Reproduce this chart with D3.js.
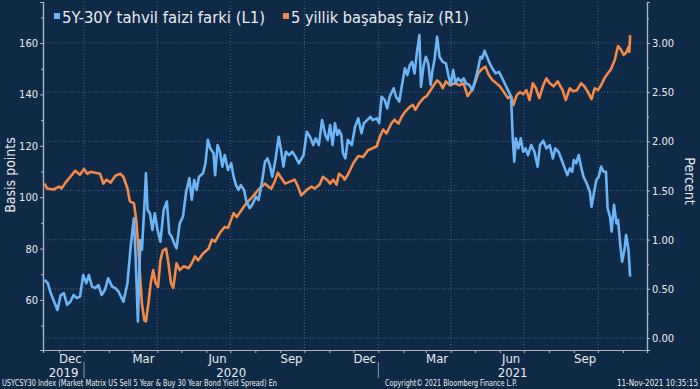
<!DOCTYPE html>
<html>
<head>
<meta charset="utf-8">
<script src="https://cdn.jsdelivr.net/npm/d3@7"></script>
<style>
  body { margin: 0; background: #0f2a47; }
  svg { display: block; }
  text { font-family: "DejaVu Sans Condensed", "DejaVu Sans", sans-serif; fill: #e8ecf0; }
</style>
</head>
<body>
<svg id="chart"></svg>
<script>
// 5Y-30Y spread (basis points, left axis)
const spreadData = [
  ["2019-11-13", 67.8], ["2019-11-17", 66.5], ["2019-11-20", 63.2], ["2019-11-24", 60.0], ["2019-11-29", 56.1],
  ["2019-12-03", 61.9], ["2019-12-07", 62.6], ["2019-12-11", 58.1], ["2019-12-15", 59.3], ["2019-12-19", 61.9],
  ["2019-12-23", 60.7], ["2019-12-27", 61.3], ["2019-12-31", 69.7], ["2020-01-04", 66.5], ["2020-01-07", 69.7],
  ["2020-01-11", 65.2], ["2020-01-15", 64.6], ["2020-01-19", 65.8], ["2020-01-23", 61.9], ["2020-01-27", 63.9],
  ["2020-01-31", 68.4], ["2020-02-05", 65.2], ["2020-02-09", 64.6], ["2020-02-13", 63.2], ["2020-02-19", 59.3],
  ["2020-02-24", 66.5], ["2020-02-28", 80.7], ["2020-03-03", 91.8], ["2020-03-05", 78.2], ["2020-03-08", 51.6],
  ["2020-03-11", 83.3], ["2020-03-13", 79.5], ["2020-03-16", 96.3], ["2020-03-18", 109.3], ["2020-03-20", 95.0],
  ["2020-03-23", 93.7], ["2020-03-26", 87.2], ["2020-03-29", 93.7], ["2020-04-01", 87.9], ["2020-04-05", 82.7],
  ["2020-04-09", 95.0], ["2020-04-13", 98.3], ["2020-04-16", 86.0], ["2020-04-19", 84.6], ["2020-04-22", 82.1],
  ["2020-04-25", 80.1], ["2020-04-29", 89.8], ["2020-05-03", 92.4], ["2020-05-07", 102.1], ["2020-05-11", 107.4],
  ["2020-05-14", 99.0], ["2020-05-17", 106.7], ["2020-05-20", 102.8], ["2020-05-23", 108.0], ["2020-05-28", 109.3],
  ["2020-05-31", 113.2], ["2020-06-03", 122.3], ["2020-06-06", 119.0], ["2020-06-10", 117.1], ["2020-06-12", 108.6],
  ["2020-06-15", 120.3], ["2020-06-18", 117.7], ["2020-06-21", 111.9], ["2020-06-24", 116.4], ["2020-06-28", 110.6],
  ["2020-07-02", 113.2], ["2020-07-05", 108.0], ["2020-07-08", 104.7], ["2020-07-11", 102.8], ["2020-07-14", 104.7],
  ["2020-07-18", 102.8], ["2020-07-21", 98.2], ["2020-07-25", 95.7], ["2020-07-28", 97.0], ["2020-08-02", 100.2],
  ["2020-08-05", 98.9], ["2020-08-09", 105.4], ["2020-08-13", 113.8], ["2020-08-16", 115.1], ["2020-08-19", 112.5],
  ["2020-08-22", 108.0], ["2020-08-26", 114.5], ["2020-08-30", 123.5], ["2020-09-02", 118.4], ["2020-09-05", 111.9],
  ["2020-09-08", 117.7], ["2020-09-12", 116.4], ["2020-09-16", 117.7], ["2020-09-20", 115.8], ["2020-09-24", 113.2],
  ["2020-09-30", 116.4], ["2020-10-04", 125.5], ["2020-10-08", 123.5], ["2020-10-12", 120.3], ["2020-10-15", 122.9],
  ["2020-10-19", 120.3], ["2020-10-23", 130.0], ["2020-10-27", 124.2], ["2020-10-30", 122.3], ["2020-11-02", 128.1],
  ["2020-11-05", 120.3], ["2020-11-08", 128.8], ["2020-11-11", 124.2], ["2020-11-13", 126.1], ["2020-11-16", 124.2],
  ["2020-11-18", 117.1], ["2020-11-21", 115.1], ["2020-11-24", 122.3], ["2020-11-29", 120.3], ["2020-12-03", 127.4],
  ["2020-12-07", 130.7], ["2020-12-11", 124.9], ["2020-12-14", 128.8], ["2020-12-18", 130.0], ["2020-12-22", 131.3],
  ["2020-12-25", 130.0], ["2020-12-30", 130.7], ["2021-01-02", 128.8], ["2021-01-05", 139.1], ["2021-01-09", 137.8],
  ["2021-01-12", 134.6], ["2021-01-15", 139.1], ["2021-01-20", 142.4], ["2021-01-23", 139.1], ["2021-01-27", 137.2],
  ["2021-01-30", 143.0], ["2021-02-03", 150.2], ["2021-02-06", 147.5], ["2021-02-09", 151.4], ["2021-02-12", 152.7],
  ["2021-02-15", 148.2], ["2021-02-18", 156.6], ["2021-02-21", 163.1], ["2021-02-23", 143.0], ["2021-02-26", 150.8],
  ["2021-03-01", 154.7], ["2021-03-04", 152.1], ["2021-03-07", 143.7], ["2021-03-09", 148.8], ["2021-03-12", 154.0],
  ["2021-03-15", 162.5], ["2021-03-18", 154.7], ["2021-03-22", 152.7], ["2021-03-26", 152.1], ["2021-03-29", 147.5],
  ["2021-04-01", 143.7], ["2021-04-04", 149.5], ["2021-04-07", 144.3], ["2021-04-10", 146.3], ["2021-04-14", 145.0],
  ["2021-04-17", 146.3], ["2021-04-20", 144.3], ["2021-04-24", 143.7], ["2021-04-28", 141.7], ["2021-05-02", 146.3],
  ["2021-05-05", 150.2], ["2021-05-08", 154.7], ["2021-05-10", 154.0], ["2021-05-13", 157.0], ["2021-05-16", 154.7],
  ["2021-05-19", 152.4], ["2021-05-23", 150.0], ["2021-05-27", 148.2], ["2021-05-31", 148.8], ["2021-06-04", 146.3],
  ["2021-06-08", 143.7], ["2021-06-12", 141.1], ["2021-06-15", 139.1], ["2021-06-17", 123.5], ["2021-06-19", 113.8],
  ["2021-06-21", 122.9], ["2021-06-24", 119.0], ["2021-06-27", 122.9], ["2021-06-30", 117.7], ["2021-07-03", 119.0],
  ["2021-07-06", 116.4], ["2021-07-10", 120.3], ["2021-07-14", 117.7], ["2021-07-18", 111.9], ["2021-07-21", 120.3],
  ["2021-07-25", 122.0], ["2021-07-29", 119.0], ["2021-08-02", 120.3], ["2021-08-06", 115.1], ["2021-08-09", 119.0],
  ["2021-08-13", 117.7], ["2021-08-17", 114.5], ["2021-08-20", 111.9], ["2021-08-24", 108.6], ["2021-08-27", 111.2],
  ["2021-08-30", 109.9], ["2021-09-01", 114.5], ["2021-09-04", 113.2], ["2021-09-07", 116.4], ["2021-09-10", 111.9],
  ["2021-09-13", 108.0], ["2021-09-17", 105.4], ["2021-09-21", 102.1], ["2021-09-23", 96.3], ["2021-09-26", 101.5],
  ["2021-09-29", 106.7], ["2021-10-02", 108.0], ["2021-10-05", 111.9], ["2021-10-08", 109.9], ["2021-10-11", 109.9],
  ["2021-10-13", 95.7], ["2021-10-16", 92.4], ["2021-10-18", 86.6], ["2021-10-21", 97.0], ["2021-10-24", 89.8],
  ["2021-10-26", 91.1], ["2021-10-29", 80.7], ["2021-10-31", 74.9], ["2021-11-03", 79.5], ["2021-11-05", 85.3],
  ["2021-11-08", 79.5], ["2021-11-10", 69.1]
];

// 5 year breakeven (percent, right axis)
const breakevenData = [
  ["2019-11-13", 1.57], ["2019-11-16", 1.52], ["2019-11-24", 1.51], ["2019-12-01", 1.54], ["2019-12-04", 1.52],
  ["2019-12-09", 1.58], ["2019-12-15", 1.64], ["2019-12-21", 1.70], ["2019-12-27", 1.66], ["2020-01-01", 1.72],
  ["2020-01-05", 1.67], ["2020-01-09", 1.69], ["2020-01-15", 1.68], ["2020-01-21", 1.67], ["2020-01-25", 1.57],
  ["2020-01-29", 1.61], ["2020-02-03", 1.58], ["2020-02-09", 1.65], ["2020-02-15", 1.67], ["2020-02-19", 1.64],
  ["2020-02-24", 1.52], ["2020-02-27", 1.39], ["2020-03-03", 1.37], ["2020-03-06", 1.20], ["2020-03-09", 0.86],
  ["2020-03-11", 0.59], ["2020-03-13", 0.35], ["2020-03-16", 0.18], ["2020-03-18", 0.17], ["2020-03-21", 0.35],
  ["2020-03-24", 0.56], ["2020-03-27", 0.69], ["2020-03-30", 0.56], ["2020-04-02", 0.52], ["2020-04-05", 0.79],
  ["2020-04-08", 0.89], ["2020-04-12", 0.91], ["2020-04-15", 0.76], ["2020-04-18", 0.56], ["2020-04-21", 0.51],
  ["2020-04-25", 0.76], ["2020-04-29", 0.69], ["2020-05-04", 0.73], ["2020-05-10", 0.71], ["2020-05-14", 0.76],
  ["2020-05-18", 0.83], ["2020-05-22", 0.79], ["2020-05-28", 0.86], ["2020-06-04", 0.91], ["2020-06-08", 1.00],
  ["2020-06-12", 0.98], ["2020-06-18", 1.07], ["2020-06-24", 1.13], ["2020-06-28", 1.12], ["2020-07-05", 1.27],
  ["2020-07-09", 1.23], ["2020-07-13", 1.28], ["2020-07-19", 1.35], ["2020-07-23", 1.39], ["2020-07-29", 1.44],
  ["2020-08-05", 1.51], ["2020-08-09", 1.54], ["2020-08-13", 1.57], ["2020-08-17", 1.54], ["2020-08-21", 1.52],
  ["2020-08-25", 1.59], ["2020-08-29", 1.68], ["2020-09-03", 1.62], ["2020-09-07", 1.57], ["2020-09-13", 1.59],
  ["2020-09-19", 1.61], ["2020-09-23", 1.54], ["2020-09-27", 1.45], ["2020-10-02", 1.49], ["2020-10-06", 1.52],
  ["2020-10-10", 1.54], ["2020-10-14", 1.52], ["2020-10-20", 1.56], ["2020-10-24", 1.64], ["2020-10-29", 1.61],
  ["2020-11-02", 1.57], ["2020-11-06", 1.61], ["2020-11-10", 1.56], ["2020-11-13", 1.67], ["2020-11-18", 1.64],
  ["2020-11-20", 1.61], ["2020-11-24", 1.66], ["2020-12-01", 1.78], ["2020-12-07", 1.85], ["2020-12-13", 1.84],
  ["2020-12-19", 1.91], ["2020-12-25", 1.93], ["2020-12-30", 1.95], ["2021-01-03", 2.05], ["2021-01-07", 2.12],
  ["2021-01-11", 2.08], ["2021-01-17", 2.18], ["2021-01-21", 2.22], ["2021-01-26", 2.18], ["2021-01-30", 2.25],
  ["2021-02-03", 2.30], ["2021-02-09", 2.35], ["2021-02-13", 2.37], ["2021-02-16", 2.32], ["2021-02-21", 2.39],
  ["2021-02-26", 2.44], ["2021-03-02", 2.46], ["2021-03-06", 2.51], ["2021-03-10", 2.56], ["2021-03-15", 2.62],
  ["2021-03-19", 2.59], ["2021-03-22", 2.54], ["2021-03-26", 2.61], ["2021-03-31", 2.57], ["2021-04-06", 2.59],
  ["2021-04-12", 2.57], ["2021-04-17", 2.59], ["2021-04-22", 2.46], ["2021-04-27", 2.52], ["2021-05-01", 2.59],
  ["2021-05-05", 2.69], ["2021-05-09", 2.73], ["2021-05-14", 2.76], ["2021-05-18", 2.68], ["2021-05-23", 2.62],
  ["2021-05-25", 2.61], ["2021-06-01", 2.56], ["2021-06-07", 2.49], ["2021-06-11", 2.44], ["2021-06-15", 2.46],
  ["2021-06-18", 2.37], ["2021-06-22", 2.47], ["2021-06-26", 2.50], ["2021-06-30", 2.48], ["2021-07-04", 2.52],
  ["2021-07-08", 2.42], ["2021-07-12", 2.59], ["2021-07-16", 2.54], ["2021-07-20", 2.44], ["2021-07-25", 2.57],
  ["2021-07-29", 2.64], ["2021-08-02", 2.59], ["2021-08-07", 2.56], ["2021-08-12", 2.61], ["2021-08-18", 2.52],
  ["2021-08-22", 2.42], ["2021-08-27", 2.54], ["2021-08-31", 2.51], ["2021-09-05", 2.52], ["2021-09-10", 2.59],
  ["2021-09-14", 2.56], ["2021-09-18", 2.51], ["2021-09-23", 2.43], ["2021-09-27", 2.54], ["2021-10-01", 2.52],
  ["2021-10-05", 2.57], ["2021-10-09", 2.64], ["2021-10-13", 2.69], ["2021-10-17", 2.73], ["2021-10-22", 2.83],
  ["2021-10-26", 2.97], ["2021-10-29", 2.94], ["2021-11-02", 2.88], ["2021-11-05", 2.90], ["2021-11-08", 2.96],
  ["2021-11-09", 2.91], ["2021-11-10", 3.08]
];

// axis ticks and labels
const leftTicks = [60, 80, 100, 120, 140, 160];
const leftMinorTicks = [50, 70, 90, 110, 130, 150, 170];
const rightTicks = [0, 0.5, 1, 1.5, 2, 2.5, 3];
const rightMinorTicks = [0.25, 0.75, 1.25, 1.75, 2.25, 2.75, 3.25];
const monthLabels = [
  ["2019-12-15", "Dec"], ["2020-03-15", "Mar"], ["2020-06-15", "Jun"], ["2020-09-15", "Sep"],
  ["2020-12-15", "Dec"], ["2021-03-15", "Mar"], ["2021-06-15", "Jun"], ["2021-09-15", "Sep"]
];
const yearLabels = [["2019-11-11", "2020-01-01", "2019"], ["2020-01-01", "2021-01-01", "2020"], ["2021-01-01", "2021-12-01", "2021"]];
const gridDates = ["2020-01-01", "2020-04-01", "2020-07-01", "2020-10-01", "2021-01-01", "2021-04-01", "2021-07-01", "2021-10-01"];
const yearBreaks = ["2020-01-01", "2021-01-01"];
const legendItems = ["5Y-30Y tahvil faizi farki (L1)", "5 yillik başabaş faiz (R1)"];
const colors = ["#6cb5f4", "#f58a48"];

const parse = d3.timeParse("%Y-%m-%d");
const spread = spreadData.map(d => ({date: parse(d[0]), v: d[1]}));
const breakeven = breakevenData.map(d => ({date: parse(d[0]), v: d[1]}));

const width = 700, height = 389;
const plot = {left: 43, right: 647, top: 2, bottom: 350};
const gridColor = "#47607d";
const axisColor = "#aab6c4";

const svg = d3.select("#chart")
  .attr("width", width)
  .attr("height", height)
  .style("background", "#0f2a47");

const x = d3.scaleTime()
  .domain([parse("2019-11-11"), parse("2021-12-01")])
  .range([plot.left, plot.right]);

const yLeft = d3.scaleLinear()
  .domain([40.5, 176])
  .range([plot.bottom, plot.top]);

const yRight = d3.scaleLinear()
  .domain([-0.122, 3.417])
  .range([plot.bottom, plot.top]);

// gridlines
svg.append("g").selectAll("line")
  .data(rightTicks)
  .enter().append("line")
  .attr("x1", plot.left).attr("x2", plot.right)
  .attr("y1", d => yRight(d)).attr("y2", d => yRight(d))
  .attr("stroke", gridColor).attr("stroke-dasharray", "1,2");

svg.append("g").selectAll("line")
  .data(gridDates)
  .enter().append("line")
  .attr("x1", d => x(parse(d))).attr("x2", d => x(parse(d)))
  .attr("y1", plot.top).attr("y2", plot.bottom)
  .attr("stroke", gridColor).attr("stroke-dasharray", "1,2");

// left axis
svg.append("g")
  .attr("transform", `translate(${plot.left},0)`)
  .call(d3.axisLeft(yLeft).tickValues(leftTicks).tickSize(3).tickPadding(2).tickFormat(d3.format("d")));
svg.append("g")
  .attr("transform", `translate(${plot.left},0)`)
  .call(d3.axisLeft(yLeft).tickValues(leftMinorTicks).tickSize(2).tickFormat(""));

// right axis
svg.append("g")
  .attr("transform", `translate(${plot.right},0)`)
  .call(d3.axisRight(yRight).tickValues(rightTicks).tickSize(3).tickPadding(2).tickFormat(d3.format(".2f")));
svg.append("g")
  .attr("transform", `translate(${plot.right},0)`)
  .call(d3.axisRight(yRight).tickValues(rightMinorTicks).tickSize(2).tickFormat(""));

// bottom axis with monthly ticks
svg.append("g")
  .attr("transform", `translate(0,${plot.bottom})`)
  .call(d3.axisBottom(x).ticks(d3.timeMonth.every(1)).tickSize(3).tickFormat(""));

svg.selectAll(".domain").attr("stroke", axisColor).attr("stroke-width", 1.2);
svg.selectAll(".tick line").attr("stroke", axisColor);
svg.selectAll(".tick text").style("font-size", "11px").attr("fill", "#e8ecf0");

// month and year labels
svg.append("g").selectAll("text")
  .data(monthLabels)
  .enter().append("text")
  .attr("x", d => x(parse(d[0])))
  .attr("y", 363)
  .attr("text-anchor", "middle")
  .style("font-size", "13px")
  .text(d => d[1]);

svg.append("g").selectAll("text")
  .data(yearLabels)
  .enter().append("text")
  .attr("x", d => (x(parse(d[0])) + x(parse(d[1]))) / 2)
  .attr("y", 377)
  .attr("text-anchor", "middle")
  .style("font-size", "13px")
  .text(d => d[2]);

svg.append("g").selectAll("line")
  .data(yearBreaks)
  .enter().append("line")
  .attr("x1", d => x(parse(d))).attr("x2", d => x(parse(d)))
  .attr("y1", 362).attr("y2", 378)
  .attr("stroke", "#8797aa");

// lines
svg.append("clipPath").attr("id", "clip")
  .append("rect")
  .attr("x", plot.left).attr("y", plot.top)
  .attr("width", plot.right - plot.left).attr("height", plot.bottom - plot.top);

const lineLeft = d3.line().x(d => x(d.date)).y(d => yLeft(d.v));
const lineRight = d3.line().x(d => x(d.date)).y(d => yRight(d.v));

svg.append("path")
  .datum(breakeven)
  .attr("clip-path", "url(#clip)")
  .attr("fill", "none")
  .attr("stroke", colors[1])
  .attr("stroke-width", 2.6)
  .attr("stroke-linejoin", "round")
  .attr("d", lineRight);

svg.append("path")
  .datum(spread)
  .attr("clip-path", "url(#clip)")
  .attr("fill", "none")
  .attr("stroke", colors[0])
  .attr("stroke-width", 2.6)
  .attr("stroke-linejoin", "round")
  .attr("d", lineLeft);

// axis titles
svg.append("text")
  .attr("transform", "translate(15,175) rotate(-90)")
  .attr("text-anchor", "middle")
  .style("font-size", "14px")
  .text("Basis points");

svg.append("text")
  .attr("transform", "translate(685,181) rotate(90)")
  .attr("text-anchor", "middle")
  .style("font-size", "14px")
  .text("Percent");

// legend
const legendX = [54, 283];
const legendLen = [203, 178];
const legend = svg.selectAll(".legend")
  .data(legendItems)
  .enter().append("g")
  .attr("class", "legend")
  .attr("transform", (d, i) => `translate(${legendX[i]},0)`);

legend.append("rect")
  .attr("x", 0).attr("y", 13)
  .attr("width", 6).attr("height", 6)
  .attr("fill", (d, i) => colors[i]);

legend.append("text")
  .attr("x", 8)
  .attr("y", 23)
  .attr("textLength", (d, i) => legendLen[i])
  .attr("lengthAdjust", "spacingAndGlyphs")
  .style("font-size", "16px")
  .text(d => d);

// footer
const footer = svg.append("g").style("font-size", "8px");
footer.append("text").attr("x", 2).attr("y", 386)
  .attr("textLength", 275).attr("lengthAdjust", "spacingAndGlyphs")
  .text("USYCSY30 Index (Market Matrix US Sell 5 Year & Buy 30 Year Bond Yield Spread) En");
footer.append("text").attr("x", 385).attr("y", 386)
  .attr("textLength", 132).attr("lengthAdjust", "spacingAndGlyphs")
  .text("Copyright© 2021 Bloomberg Finance L.P.");
footer.append("text").attr("x", 698).attr("y", 386)
  .attr("text-anchor", "end")
  .text("11-Nov-2021 10:35:15");
</script>
</body>
</html>
